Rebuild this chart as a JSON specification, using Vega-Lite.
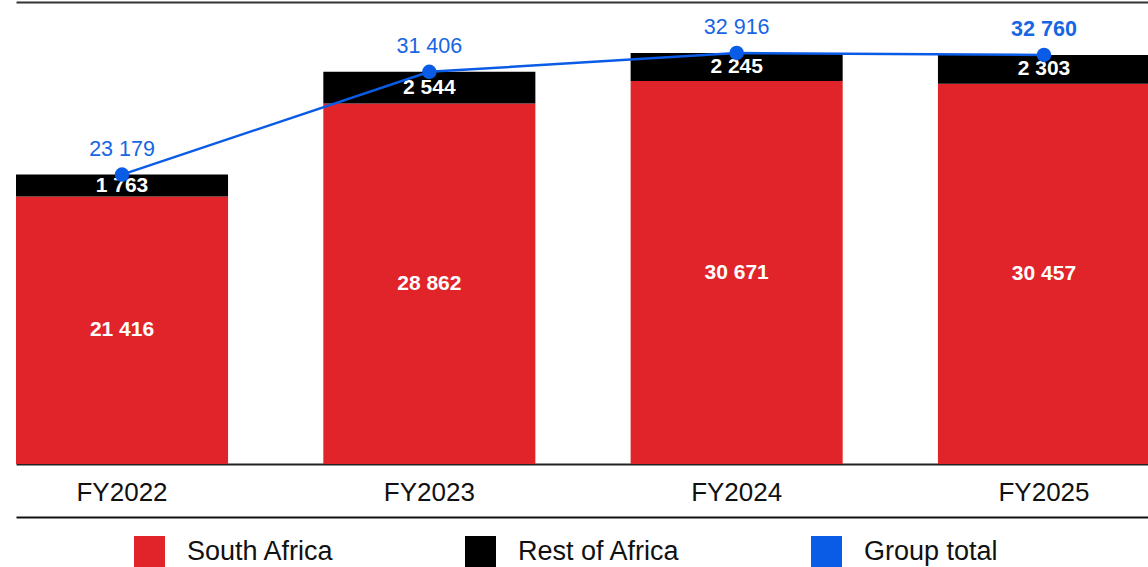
{
  "$schema": "https://vega.github.io/schema/vega-lite/v6.json",
  "width": 1134,
  "height": 462,
  "autosize": {"type": "none"},
  "padding": {"left": 16, "top": 2, "right": 0, "bottom": 103},
  "config": {
    "view": {"stroke": null},
    "font": "Liberation Sans",
    "locale": {
      "number": {"decimal": ".", "thousands": " ", "grouping": [3], "currency": ["", ""]}
    }
  },
  "datasets": {
    "segments": [
      {"year": "FY2022", "segment": "South Africa", "value": 21416},
      {"year": "FY2022", "segment": "Rest of Africa", "value": 1763},
      {"year": "FY2023", "segment": "South Africa", "value": 28862},
      {"year": "FY2023", "segment": "Rest of Africa", "value": 2544},
      {"year": "FY2024", "segment": "South Africa", "value": 30671},
      {"year": "FY2024", "segment": "Rest of Africa", "value": 2245},
      {"year": "FY2025", "segment": "South Africa", "value": 30457},
      {"year": "FY2025", "segment": "Rest of Africa", "value": 2303}
    ],
    "totals": [
      {"year": "FY2022", "total": 23179},
      {"year": "FY2023", "total": 31406},
      {"year": "FY2024", "total": 32916},
      {"year": "FY2025", "total": 32760}
    ]
  },
  "layer": [
    {
      "data": {"name": "segments"},
      "layer": [
        {
          "mark": {"type": "bar"},
          "encoding": {
            "x": {
              "field": "year",
              "type": "nominal",
              "scale": {"type": "band", "paddingInner": 0.31, "paddingOuter": 0},
              "axis": {
                "title": null,
                "orient": "bottom",
                "domain": true,
                "domainColor": "#222222",
                "domainWidth": 2,
                "ticks": false,
                "grid": false,
                "labelAngle": 0,
                "labelFontSize": 26,
                "labelColor": "#111111",
                "labelPadding": 15
              }
            },
            "y": {
              "field": "value",
              "type": "quantitative",
              "stack": "zero",
              "scale": {"domain": [0, 37000], "nice": false},
              "axis": null
            },
            "color": {
              "field": "segment",
              "type": "nominal",
              "scale": {
                "domain": ["South Africa", "Rest of Africa", "Group total"],
                "range": ["#e1242a", "#000000", "#0a5ce6"]
              },
              "legend": {
                "title": null,
                "orient": "none",
                "direction": "horizontal",
                "legendX": 118,
                "legendY": 534,
                "padding": 0,
                "gridAlign": "none",
                "columnPadding": 130,
                "symbolType": "square",
                "symbolSize": 961,
                "symbolStrokeWidth": 0,
                "labelFontSize": 27,
                "labelColor": "#111111",
                "labelOffset": 22,
                "labelLimit": 400
              }
            },
            "order": {"field": "segment", "sort": "descending"}
          }
        },
        {
          "transform": [
            {
              "stack": "value",
              "groupby": ["year"],
              "sort": [{"field": "segment", "order": "descending"}],
              "as": ["v0", "v1"]
            },
            {"calculate": "(datum.v0 + datum.v1) / 2", "as": "mid"}
          ],
          "mark": {
            "type": "text",
            "color": "#ffffff",
            "fontWeight": "bold",
            "fontSize": 21,
            "baseline": "middle",
            "align": "center"
          },
          "encoding": {
            "x": {"field": "year", "type": "nominal"},
            "y": {"field": "mid", "type": "quantitative"},
            "text": {"field": "value", "type": "quantitative", "format": ","}
          }
        }
      ]
    },
    {
      "data": {"name": "totals"},
      "mark": {
        "type": "line",
        "color": "#0a5ce6",
        "strokeWidth": 2.5,
        "point": {"filled": true, "size": 210, "color": "#0a5ce6"}
      },
      "encoding": {
        "x": {
          "field": "year",
          "type": "nominal",
          "scale": {"type": "band", "paddingInner": 0.31, "paddingOuter": 0},
          "axis": {
            "title": null,
            "orient": "bottom",
            "offset": 53,
            "domain": true,
            "domainColor": "#111111",
            "domainWidth": 2,
            "ticks": false,
            "labels": false,
            "grid": false
          }
        },
        "y": {"field": "total", "type": "quantitative"}
      }
    },
    {
      "data": {"name": "totals"},
      "encoding": {
        "x": {
          "field": "year",
          "type": "nominal",
          "scale": {"type": "band", "paddingInner": 0.31, "paddingOuter": 0},
          "axis": {
            "title": null,
            "orient": "top",
            "domain": true,
            "domainColor": "#333333",
            "domainWidth": 2,
            "ticks": false,
            "labels": false,
            "grid": false
          }
        },
        "y": {"field": "total", "type": "quantitative"},
        "text": {"field": "total", "type": "quantitative", "format": ","}
      },
      "layer": [
        {
          "transform": [{"filter": "datum.year !== 'FY2025'"}],
          "mark": {
            "type": "text",
            "color": "#1766e3",
            "fontSize": 21.5,
            "baseline": "alphabetic",
            "align": "center",
            "dy": -19
          }
        },
        {
          "transform": [{"filter": "datum.year === 'FY2025'"}],
          "mark": {
            "type": "text",
            "color": "#1766e3",
            "fontSize": 21.5,
            "fontWeight": "bold",
            "baseline": "alphabetic",
            "align": "center",
            "dy": -19
          }
        }
      ]
    }
  ],
  "resolve": {"scale": {"x": "independent"}}
}
